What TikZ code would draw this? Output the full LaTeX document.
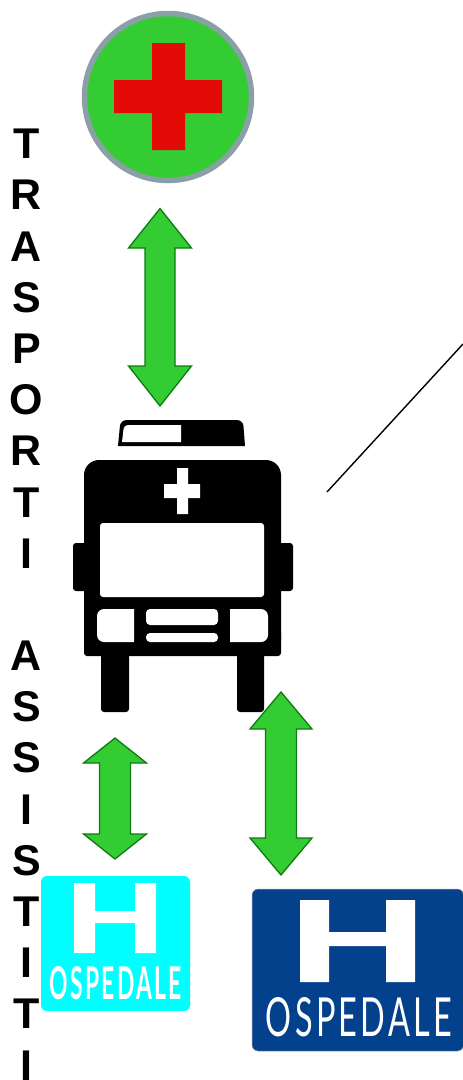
\documentclass[tikz,border=0pt]{standalone}
\usepackage{fontspec}
\usepackage{graphicx}
\setmainfont{Liberation Sans}
\newfontfamily\signfont[LetterSpace=10]{Lato}
\definecolor{arrowfill}{HTML}{33CC33}
\definecolor{arrowline}{HTML}{0F7A0F}
\definecolor{ringgrey}{HTML}{8A9FA6}
\definecolor{crossred}{HTML}{E30B06}
\definecolor{signblue}{HTML}{03418C}
\definecolor{signcyan}{HTML}{00FFFF}
\tikzset{
  dblarrow/.style={fill=arrowfill,draw=arrowline,line width=1.3pt,line join=miter},
  ink/.style={fill=black,draw=none},
  paper/.style={fill=white,draw=none},
  signtext/.style={inner sep=0pt,outer sep=0pt,text=white}
}
\newcommand{\twoway}[7]{% cx, tip, base, base2, tip2, head half, shaft half
  \path[dblarrow] (#1,#2) -- (#1+#6,#3) -- (#1+#7,#3) -- (#1+#7,#4) -- (#1+#6,#4) -- (#1,#5)
    -- (#1-#6,#4) -- (#1-#7,#4) -- (#1-#7,#3) -- (#1-#6,#3) -- cycle;}
\begin{document}
\begin{tikzpicture}[x=1pt,y=-1pt]
\useasboundingbox (0,0) rectangle (463,1080);
% Vertical text
\node[anchor=north,inner sep=0pt,align=center,text width=60pt,
  font=\bfseries\fontsize{43}{51.18}\selectfont] (label) at (26.5,129)
  {T\\R\\A\\S\\P\\O\\R\\T\\I\\[51.18pt]A\\S\\S\\I\\S\\T\\I\\T\\I};
% First aid circle
\node[circle,draw=ringgrey,line width=5.5pt,fill=arrowfill,minimum size=167pt,inner sep=0pt] (aid) at (168,97) {};
\fill[crossred] (152,43) -- (185,43) -- (185,80) -- (222,80) -- (222,113) -- (185,113) -- (185,150)
  -- (152,150) -- (152,113) -- (114,113) -- (114,80) -- (152,80) -- cycle;
% Ambulance
\path[ink] (118,446) [rounded corners=6pt] -- (120.5,420) -- (243,420) [sharp corners] -- (245,446) -- cycle;
\path[paper] (122,442) [rounded corners=4pt] -- (124,425) [sharp corners] -- (181,425) -- (181,442) -- cycle;
\path[ink,rounded corners=3pt] (73,543) rectangle (293,591);
\path[ink,rounded corners=3pt] (101,640) rectangle (129,712);
\path[ink,rounded corners=3pt] (237,640) rectangle (264,712);
\path[ink] (84,640) [rounded corners=15pt] -- (84,460) -- (281,460) [sharp corners] -- (281,640) -- cycle;
\path[ink,rounded corners=3pt] (84,630) rectangle (281,656);
\path[paper] (177,468) -- (188,468) -- (188,484) -- (200,484) -- (200,498) -- (188,498) -- (188,514)
  -- (177,514) -- (177,498) -- (164,498) -- (164,484) -- (177,484) -- cycle;
\path[paper,rounded corners=3pt] (100,523) rectangle (264,597);
\path[paper] (134,609) [rounded corners=7pt] -- (97,609) -- (97,642) [sharp corners] -- (134,642) -- cycle;
\path[paper] (230,609) [rounded corners=7pt] -- (268,609) -- (268,642) [sharp corners] -- (230,642) -- cycle;
\path[paper,rounded corners=4pt] (146,609) rectangle (218,625);
\path[paper,rounded corners=4pt] (146,633) rectangle (218,642);
% Arrows
\twoway{160}{208.5}{248}{366}{406}{31.5}{15}
\twoway{115}{738}{763}{834}{859}{31.5}{15.5}
\twoway{281}{692}{729}{838}{875}{31}{15.5}
% Cyan sign
\node[rounded corners=6pt,fill=signcyan,minimum width=149pt,minimum height=135pt,inner sep=0pt] (signa) at (115.5,943.5) {};
\fill[white] (74,883) rectangle (95,953) (135,883) rectangle (156,953) (95,911) rectangle (135,923);
\node[signtext] (texta) at (116,983.5) {\resizebox{132pt}{33pt}{\signfont\bfseries OSPEDALE}};
% Blue sign
\node[rounded corners=6pt,fill=signblue,draw=gray!70,line width=.5pt,minimum width=211.5pt,minimum height=162pt,inner sep=0pt] (signb) at (357.75,970) {};
\fill[white] (300,900) rectangle (329,982) (386,900) rectangle (415,982) (329,932) rectangle (386,946);
\node[signtext] (textb) at (359,1017.5) {\resizebox{186pt}{39pt}{\signfont OSPEDALE}};
% Slanted line
\coordinate (linea) at (327,492);
\coordinate (lineb) at (463,344);
\draw[black,line width=1.4pt] (linea) -- (lineb);
\end{tikzpicture}
\end{document}
